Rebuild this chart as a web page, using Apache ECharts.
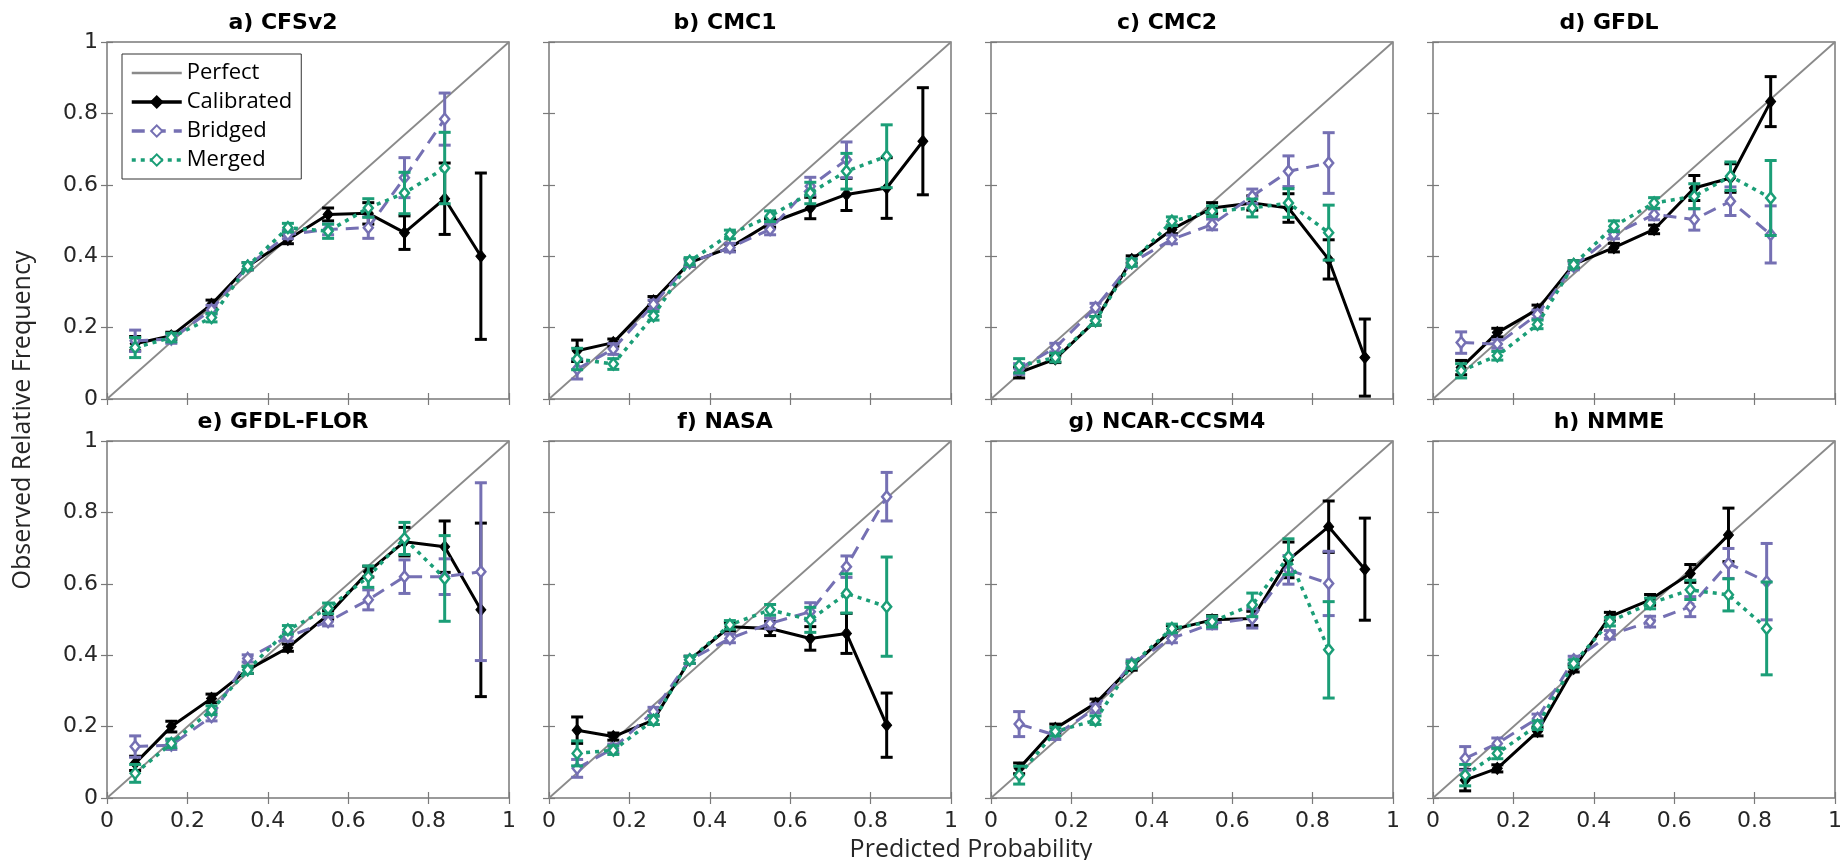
<!DOCTYPE html>
<html>
<head>
<meta charset="utf-8">
<script src="https://cdn.jsdelivr.net/npm/echarts@6/dist/echarts.min.js"></script>
<style>
html,body{margin:0;padding:0;background:#fff;}
#chart{width:1845px;height:860px;}
</style>
</head>
<body>
<div id="chart"></div>
<script>
// ---------- data ----------
const tickLabels = ['0','0.2','0.4','0.6','0.8','1'];
const seriesNames = ['Perfect','Calibrated','Bridged','Merged'];
const titles = ['a) CFSv2','b) CMC1','c) CMC2','d) GFDL','e) GFDL-FLOR','f) NASA','g) NCAR-CCSM4','h) NMME'];

const x10 = [0.07,0.16,0.26,0.35,0.45,0.55,0.65,0.74,0.84,0.93];
const xH  = [0.08,0.16,0.26,0.35,0.44,0.54,0.64,0.735,0.83];

// a) CFSv2
const calA = [0.155,0.177,0.265,0.372,0.447,0.517,0.52,0.466,0.561,0.40];
const calAErr = [0.02,0.01,0.012,0.01,0.012,0.018,0.03,0.047,0.10,0.233];
const briA = [0.163,0.168,0.25,0.372,0.461,0.475,0.48,0.62,0.784,null];
const briAErr = [0.03,0.012,0.012,0.01,0.012,0.015,0.03,0.056,0.073,null];
const merA = [0.144,0.172,0.228,0.372,0.48,0.47,0.535,0.577,0.647,null];
const merAErr = [0.028,0.012,0.012,0.01,0.012,0.02,0.026,0.058,0.10,null];
// b) CMC1
const calB = [0.135,0.158,0.275,0.382,0.424,0.493,0.535,0.573,0.591,0.722];
const calBErr = [0.03,0.01,0.012,0.01,0.01,0.012,0.03,0.045,0.085,0.15];
const briB = [0.084,0.14,0.265,0.382,0.424,0.475,0.596,0.67,null,null];
const briBErr = [0.028,0.015,0.012,0.01,0.012,0.015,0.025,0.05,null,null];
const merB = [0.112,0.098,0.233,0.386,0.461,0.512,0.577,0.638,0.68,null];
const merBErr = [0.03,0.015,0.012,0.01,0.012,0.015,0.03,0.05,0.088,null];
// c) CMC2
const calC = [0.074,0.112,0.219,0.391,0.475,0.535,0.549,0.535,0.391,0.116];
const calCErr = [0.015,0.01,0.012,0.01,0.012,0.015,0.02,0.04,0.055,0.108];
const briC = [0.084,0.144,0.256,0.382,0.447,0.489,0.568,0.638,0.661,null];
const briCErr = [0.015,0.012,0.012,0.01,0.012,0.015,0.02,0.043,0.085,null];
const merC = [0.093,0.116,0.219,0.382,0.498,0.526,0.535,0.549,0.466,null];
const merCErr = [0.02,0.012,0.012,0.01,0.012,0.015,0.025,0.04,0.077,null];
// d) GFDL
const calD = [0.088,0.186,0.251,0.377,0.424,0.475,0.591,0.619,0.833,null];
const calDErr = [0.02,0.012,0.012,0.01,0.012,0.012,0.035,0.04,0.07,null];
const briD = [0.158,0.154,0.237,0.372,0.461,0.517,0.503,0.554,0.461,null];
const briDErr = [0.03,0.012,0.012,0.01,0.012,0.015,0.03,0.04,0.08,null];
const merD = [0.079,0.121,0.209,0.377,0.484,0.549,0.568,0.624,0.563,null];
const merDErr = [0.02,0.012,0.012,0.01,0.015,0.015,0.035,0.04,0.105,null];
// e) GFDL-FLOR
const calE = [0.097,0.2,0.279,0.359,0.421,0.513,0.634,0.718,0.704,0.527];
const calEErr = [0.02,0.015,0.012,0.01,0.01,0.012,0.015,0.04,0.072,0.243];
const briE = [0.144,0.148,0.228,0.391,0.452,0.494,0.555,0.62,0.62,0.634];
const briEErr = [0.03,0.012,0.012,0.01,0.012,0.012,0.028,0.047,0.05,0.249];
const merE = [0.069,0.153,0.246,0.359,0.471,0.531,0.62,0.727,0.615,null];
const merEErr = [0.025,0.012,0.012,0.01,0.012,0.015,0.03,0.045,0.12,null];
// f) NASA
const calF = [0.19,0.172,0.218,0.387,0.48,0.475,0.447,0.461,0.204,null];
const calFErr = [0.037,0.01,0.012,0.01,0.012,0.02,0.033,0.056,0.09,null];
const briF = [0.083,0.139,0.242,0.387,0.447,0.489,0.522,0.648,0.844,null];
const briFErr = [0.025,0.012,0.012,0.01,0.012,0.015,0.025,0.03,0.068,null];
const merF = [0.125,0.134,0.218,0.387,0.485,0.527,0.499,0.573,0.536,null];
const merFErr = [0.035,0.012,0.012,0.01,0.012,0.015,0.035,0.055,0.139,null];
// g) NCAR-CCSM4
const calG = [0.083,0.195,0.265,0.368,0.471,0.499,0.503,0.667,0.76,0.641];
const calGErr = [0.015,0.012,0.012,0.01,0.012,0.012,0.02,0.05,0.072,0.143];
const briG = [0.207,0.176,0.251,0.377,0.447,0.489,0.503,0.639,0.601,null];
const briGErr = [0.035,0.012,0.012,0.01,0.012,0.015,0.027,0.04,0.09,null];
const merG = [0.064,0.186,0.218,0.373,0.475,0.494,0.541,0.676,0.415,null];
const merGErr = [0.025,0.012,0.012,0.01,0.012,0.015,0.033,0.05,0.135,null];
// h) NMME
const calH = [0.05,0.083,0.186,0.363,0.508,0.555,0.629,0.737,null];
const calHErr = [0.03,0.01,0.012,0.01,0.012,0.015,0.025,0.075,null];
const briH = [0.111,0.153,0.223,0.387,0.457,0.494,0.536,0.657,0.606];
const briHErr = [0.033,0.015,0.012,0.01,0.012,0.015,0.028,0.042,0.107];
const merH = [0.064,0.125,0.204,0.377,0.494,0.545,0.583,0.569,0.475];
const merHErr = [0.03,0.015,0.012,0.01,0.012,0.015,0.027,0.045,0.13];

// ---------- layout / style ----------
const panels = [
  {x:x10, cal:calA, calE:calAErr, bri:briA, briE:briAErr, mer:merA, merE:merAErr},
  {x:x10, cal:calB, calE:calBErr, bri:briB, briE:briBErr, mer:merB, merE:merBErr},
  {x:x10, cal:calC, calE:calCErr, bri:briC, briE:briCErr, mer:merC, merE:merCErr},
  {x:x10, cal:calD, calE:calDErr, bri:briD, briE:briDErr, mer:merD, merE:merDErr},
  {x:x10, cal:calE, calE:calEErr, bri:briE, briE:briEErr, mer:merE, merE:merEErr},
  {x:x10, cal:calF, calE:calFErr, bri:briF, briE:briFErr, mer:merF, merE:merFErr},
  {x:x10, cal:calG, calE:calGErr, bri:briG, briE:briGErr, mer:merG, merE:merGErr},
  {x:xH,  cal:calH, calE:calHErr, bri:briH, briE:briHErr, mer:merH, merE:merHErr}
];
const colLeft = [107,549,991,1433];
const rowTop = [42,441];
const PW = 402, PH = 357;
const BLACK = '#000000', PURPLE = '#7570b3', GREEN = '#1b9e77', GRAY = '#8a8a8a';
const FRAME = '#7a7a7a';

const grids = [], xAxes = [], yAxes = [], series = [], graphics = [];

function pts(xs, ys){ const o=[]; xs.forEach((x,i)=>{ if(ys[i]!=null) o.push([x, ys[i]]); }); return o; }
function errPts(xs, ys, es){ const o=[]; xs.forEach((x,i)=>{ if(ys[i]!=null) o.push([x, ys[i], es[i]]); }); return o; }
function errRender(color){
  return function(params, api){
    const x = api.value(0), y = api.value(1), e = api.value(2);
    const t = api.coord([x, y + e]), b = api.coord([x, y - e]);
    const hw = 6;
    const st = {stroke: color, lineWidth: 3, fill: null};
    return {type:'group', children:[
      {type:'line', shape:{x1:t[0], y1:t[1], x2:b[0], y2:b[1]}, style:st},
      {type:'line', shape:{x1:t[0]-hw, y1:t[1], x2:t[0]+hw, y2:t[1]}, style:st},
      {type:'line', shape:{x1:b[0]-hw, y1:b[1], x2:b[0]+hw, y2:b[1]}, style:st}
    ]};
  };
}

panels.forEach((p, i) => {
  const r = Math.floor(i / 4), c = i % 4;
  const left = colLeft[c], top = rowTop[r];
  grids.push({left: left, top: top, width: PW, height: PH, show: true,
    borderColor: FRAME, borderWidth: 1.5, backgroundColor: '#fff', containLabel: false});
  const tickStyle = {show: true, inside: true, length: 6, lineStyle: {color: FRAME, width: 1.2}};
  const lblStyle = {fontFamily: 'DejaVu Sans', fontSize: 22, color: '#262626'};
  xAxes.push({type:'value', gridIndex:i, min:0, max:1, interval:0.2, position:'bottom',
    axisLine:{show:false}, splitLine:{show:false}, axisTick: tickStyle,
    axisLabel: Object.assign({show: r === 1, margin: 12, formatter: v => tickLabels[Math.round(v*5)]}, lblStyle)});
  xAxes.push({type:'value', gridIndex:i, min:0, max:1, interval:0.2, position:'top',
    axisLine:{show:false}, splitLine:{show:false}, axisTick: tickStyle, axisLabel:{show:false}});
  yAxes.push({type:'value', gridIndex:i, min:0, max:1, interval:0.2, position:'left',
    axisLine:{show:false}, splitLine:{show:false}, axisTick: tickStyle,
    axisLabel: Object.assign({show: c === 0, margin: 9, formatter: v => tickLabels[Math.round(v*5)]}, lblStyle)});
  yAxes.push({type:'value', gridIndex:i, min:0, max:1, interval:0.2, position:'right',
    axisLine:{show:false}, splitLine:{show:false}, axisTick: tickStyle, axisLabel:{show:false}});

  const xi = 2*i, yi = 2*i;
  series.push({name:'Perfect', type:'line', xAxisIndex:xi, yAxisIndex:yi, data:[[0,0],[1,1]],
    symbol:'none', lineStyle:{color:GRAY, width:1.8}, itemStyle:{color:GRAY}, z:1, silent:true});

  series.push({name:'Calibrated', type:'line', xAxisIndex:xi, yAxisIndex:yi, data:pts(p.x, p.cal),
    symbol:'diamond', symbolSize:[10,12], showSymbol:true,
    lineStyle:{color:BLACK, width:3}, itemStyle:{color:BLACK, borderColor:BLACK, borderWidth:1}, z:3});
  series.push({name:'Bridged', type:'line', xAxisIndex:xi, yAxisIndex:yi, data:pts(p.x, p.bri),
    symbol:'diamond', symbolSize:[9,11], showSymbol:true,
    lineStyle:{color:PURPLE, width:3, type:[13,8]}, itemStyle:{color:'#ffffff', borderColor:PURPLE, borderWidth:2.5}, z:4});
  series.push({name:'Merged', type:'line', xAxisIndex:xi, yAxisIndex:yi, data:pts(p.x, p.mer),
    symbol:'diamond', symbolSize:[9,11], showSymbol:true,
    lineStyle:{color:GREEN, width:3.5, type:[4,5]}, itemStyle:{color:'#ffffff', borderColor:GREEN, borderWidth:2.5}, z:5});

  series.push({name:'CalibratedErr', type:'custom', xAxisIndex:xi, yAxisIndex:yi, coordinateSystem:'cartesian2d',
    data: errPts(p.x, p.cal, p.calE), encode:{x:0, y:1}, renderItem: errRender(BLACK), z:3, silent:true});
  series.push({name:'BridgedErr', type:'custom', xAxisIndex:xi, yAxisIndex:yi, coordinateSystem:'cartesian2d',
    data: errPts(p.x, p.bri, p.briE), encode:{x:0, y:1}, renderItem: errRender(PURPLE), z:4, silent:true});
  series.push({name:'MergedErr', type:'custom', xAxisIndex:xi, yAxisIndex:yi, coordinateSystem:'cartesian2d',
    data: errPts(p.x, p.mer, p.merE), encode:{x:0, y:1}, renderItem: errRender(GREEN), z:5, silent:true});

  graphics.push({type:'text', x: left + 176, y: top - 18.5, z: 100,
    style:{text: titles[i], font: 'bold 22px "DejaVu Sans"', fill:'#000', textAlign:'center', textVerticalAlign:'middle'}});
});

graphics.push({type:'text', x: 971, y: 850, z:100,
  style:{text:'Predicted Probability', font:'25px "Open Sans"', fill:'#262626', textAlign:'center', textVerticalAlign:'middle'}});
graphics.push({type:'text', x: 23, y: 420, rotation: Math.PI/2, z:100,
  style:{text:'Observed Relative Frequency', font:'25px "Open Sans"', fill:'#262626', textAlign:'center', textVerticalAlign:'middle'}});

const chart = echarts.init(document.getElementById('chart'), null, {renderer:'canvas'});
chart.setOption({
  animation: false,
  backgroundColor: '#ffffff',
  grid: grids,
  xAxis: xAxes,
  yAxis: yAxes,
  legend: {
    data: [
      {name:'Perfect', itemStyle:{opacity:0, borderWidth:0}, lineStyle:{width:2.5}},
      {name:'Calibrated', lineStyle:{width:3.5}},
      {name:'Bridged', lineStyle:{width:3.5}},
      {name:'Merged', lineStyle:{width:3.5}}
    ],
    orient:'vertical', left:122, top:54, padding:[8,9,8,8],
    itemGap:7, itemWidth:50, itemHeight:14, backgroundColor:'#ffffff',
    borderColor:'#333333', borderWidth:1, selectedMode:false, z:50,
    textStyle:{fontFamily:'Open Sans', fontSize:22, color:'#000', lineHeight:22}
  },
  graphic: graphics,
  series: series
});
</script>
</body>
</html>
